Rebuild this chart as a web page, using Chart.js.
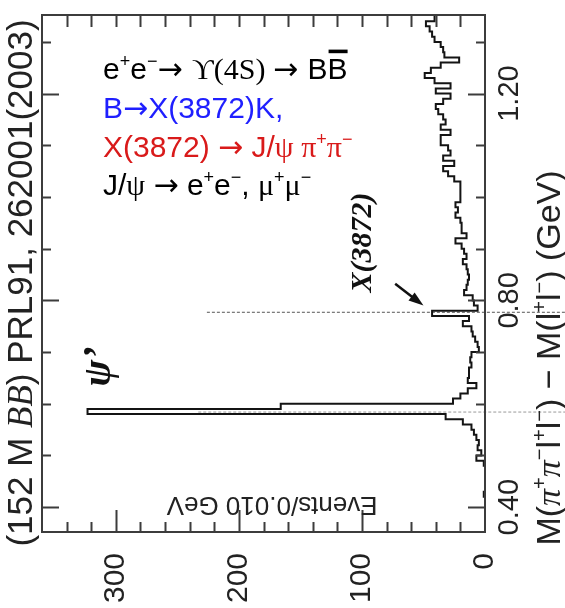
<!DOCTYPE html>
<html>
<head>
<meta charset="utf-8">
<script src="https://cdn.jsdelivr.net/npm/chart.js@4.4.0/dist/chart.umd.min.js"></script>
<style>
html, body { margin: 0; padding: 0; background: #fff; }
#wrap { width: 565px; height: 608px; }
</style>
</head>
<body>
<div id="wrap"><canvas id="myChart" width="565" height="608"></canvas></div>
<script>

// lower edge of every 0.010 GeV bin, top of the plot first
var binLow = [
    1.35, 1.34, 1.33, 1.32, 1.31, 1.30, 1.29, 1.28, 1.27, 1.26,
    1.25, 1.24, 1.23, 1.22, 1.21, 1.20, 1.19, 1.18, 1.17, 1.16,
    1.15, 1.14, 1.13, 1.12, 1.11, 1.10, 1.09, 1.08, 1.07, 1.06,
    1.05, 1.04, 1.03, 1.02, 1.01, 1.00, 0.99, 0.98, 0.97, 0.96,
    0.95, 0.94, 0.93, 0.92, 0.91, 0.90, 0.89, 0.88, 0.87, 0.86,
    0.85, 0.84, 0.83, 0.82, 0.81, 0.80, 0.79, 0.78, 0.77, 0.76,
    0.75, 0.74, 0.73, 0.72, 0.71, 0.70, 0.69, 0.68, 0.67, 0.66,
    0.65, 0.64, 0.63, 0.62, 0.61, 0.60, 0.59, 0.58, 0.57, 0.56,
    0.55, 0.54, 0.53, 0.52, 0.51, 0.50, 0.49, 0.48, 0.47, 0.46,
    0.45, 0.44, 0.43, 0.42, 0.41, 0.40, 0.39, 0.38, 0.37, 0.36,
    0.35
];

// events per bin (same order as binLow)
var binCounts = [
    41, 41, 48, 45, 43, 41, 36, 34, 33, 21,
    36, 44, 49, 41, 28, 40, 28, 34, 40, 38,
    34, 32, 36, 28, 36, 36, 30, 28, 34, 25,
    34, 30, 25, 20, 20, 20, 20, 24, 22, 24,
    20, 19, 19, 15, 24, 19, 17, 15, 18, 15,
    14, 13, 14, 15, 17, 10, 9, 6, 43, 13,
    18, 11, 10, 8, 6, 5, 11, 12, 11, 13,
    13, 14, 7, 14, 20, 26, 166, 323, 32, 18,
    11, 9, 7, 5, 6, 3, 7, 1, 0, 0,
    0, 0, 0, 1, 0, 0, 0, 0, 0, 0,
    0
];

var countTicks = [0, 100, 200, 300];
var countMinor = [20, 40, 60, 80, 120, 140, 160, 180, 220, 240, 260, 280, 320, 340];
var massTicks = [0.40, 0.80, 1.20];
var massMinor = [0.50, 0.60, 0.70, 0.90, 1.00, 1.10, 1.30];
var massTickLabels = ['0.40', '0.80', '1.20'];

// dashed markers: [mass, count where the line starts]
var xLineMass = 0.777, xLineFrom = 226;
var psiLineMass = 0.584, psiLineFrom = 233;

var textColor = '#222';
var sans = '"Liberation Sans", Arial, sans-serif';
var serif = '"Liberation Serif", "DejaVu Serif", serif';
var arrowFont = '"DejaVu Sans", sans-serif';

// decay chain text, one array per line
var decayLines = [
    { color: '#000000', parts: [
        {t: 'e'}, {t: '+', sup: 1}, {t: 'e'}, {t: '\u2212', sup: 1},
        {t: '\u2192 ', arrow: 1}, {t: '\u03d2', serif: 1}, {t: '(4S) ', serif: 1}, {t: '\u2192 ', arrow: 1},
        {t: 'B'}, {t: 'B', over: 1}] },
    { color: '#1f1fff', parts: [{t: 'B'}, {t: '\u2192', arrow: 1}, {t: 'X(3872)K,'}] },
    { color: '#d91a1a', parts: [
        {t: 'X(3872) '}, {t: '\u2192', arrow: 1}, {t: ' J/'}, {t: '\u03c8 \u03c0', serif: 1},
        {t: '+', sup: 1}, {t: '\u03c0', serif: 1}, {t: '\u2212', sup: 1}] },
    { color: '#000000', parts: [
        {t: 'J/'}, {t: '\u03c8', serif: 1}, {t: ' '}, {t: '\u2192', arrow: 1}, {t: ' '},
        {t: 'e'}, {t: '+', sup: 1}, {t: 'e'}, {t: '\u2212', sup: 1}, {t: ', '},
        {t: '\u03bc', serif: 1}, {t: '+', sup: 1}, {t: '\u03bc', serif: 1}, {t: '\u2212', sup: 1}] }
];

var sourceParts = [
    {t: '(152 M '}, {t: 'B', serif: 1, it: 1}, {t: 'B', serif: 1, it: 1},
    {t: ') PRL91, 262001(2003)'}
];

var axisTitleParts = [
    {t: 'M('}, {t: '\u03c0', serif: 1, it: 1}, {t: '+', sup: 1}, {t: '\u03c0', serif: 1, it: 1}, {t: '\u2212', sup: 1},
    {t: 'l'}, {t: '+', sup: 1}, {t: 'l'}, {t: '\u2212', sup: 1},
    {t: ') \u2212 M('}, {t: 'l'}, {t: '+', sup: 1}, {t: 'l'}, {t: '\u2212', sup: 1}, {t: ') (GeV)'}
];

/*********************************
 *     Function Declaration      *
 ********************************/

function partFont(p, size) {
    var s = p.sup ? Math.round(size * 0.6) : size;
    var fam = p.arrow ? arrowFont : (p.serif ? serif : sans);
    return (p.it ? 'italic ' : '') + (p.b ? 'bold ' : '') + s + 'px ' + fam;
}

// draws a list of text pieces on one baseline, x is the start (or centre)
function drawParts(ctx, parts, x, y, size, align) {
    var total = 0;
    parts.forEach(function(p){
        ctx.font = partFont(p, size);
        p.w = ctx.measureText(p.t).width;
        total += p.w;
    });
    var cx = (align === 'center') ? x - total / 2 : x;
    ctx.textAlign = 'left';
    parts.forEach(function(p){
        ctx.font = partFont(p, size);
        var dy = p.sup ? -size * 0.4 : 0;
        ctx.fillText(p.t, cx, y + dy);
        if (p.over) {
            ctx.fillRect(cx + 1, y - size * 0.98, p.w - 1, size * 0.12);
        }
        cx += p.w;
    });
}

function histPoints() {
    var pts = [];
    for (var i = 0; i < binLow.length; i++) {
        pts.push({x: binCounts[i], y: binLow[i] + 0.01});
        pts.push({x: binCounts[i], y: binLow[i]});
    }
    return pts;
}

var framePlugin = {
    id: 'frame',
    afterDatasetsDraw: function(chart) {
        var ctx = chart.ctx;
        var a = chart.chartArea;
        var xs = chart.scales.x, ys = chart.scales.y;

        ctx.save();
        ctx.strokeStyle = '#3c3c3c';
        ctx.lineWidth = 2;
        ctx.strokeRect(a.left, a.top, a.right - a.left, a.bottom - a.top);

        // ticks point inwards on all four sides
        ctx.beginPath();
        countTicks.concat(countMinor).forEach(function(v){
            var px = Math.round(xs.getPixelForValue(v)) + 0.5;
            var major = countTicks.indexOf(v) >= 0;
            if (v === 0) return;
            ctx.moveTo(px, a.bottom); ctx.lineTo(px, a.bottom - (major ? 22 : 10));
            ctx.moveTo(px, a.top); ctx.lineTo(px, a.top + 12);
        });
        massTicks.concat(massMinor).forEach(function(v){
            var py = Math.round(ys.getPixelForValue(v)) + 0.5;
            var len = massTicks.indexOf(v) >= 0 ? 17 : 9;
            ctx.moveTo(a.left, py); ctx.lineTo(a.left + len, py);
            ctx.moveTo(a.right, py); ctx.lineTo(a.right - len, py);
        });
        ctx.stroke();

        ctx.fillStyle = textColor;
        ctx.textBaseline = 'middle';

        // count labels, turned to read upwards
        ctx.font = '30px ' + sans;
        countTicks.forEach(function(v){
            ctx.save();
            ctx.translate(xs.getPixelForValue(v), a.bottom + 21);
            ctx.rotate(-Math.PI / 2);
            ctx.textAlign = 'right';
            ctx.fillText(String(v), 0, 0);
            ctx.restore();
        });

        // mass labels on the right
        ctx.font = '29px ' + sans;
        massTicks.forEach(function(v, i){
            ctx.save();
            ctx.translate(a.right + 25, ys.getPixelForValue(v));
            ctx.rotate(-Math.PI / 2);
            ctx.textAlign = 'center';
            ctx.fillText(massTickLabels[i], 0, 0);
            ctx.restore();
        });

        ctx.textBaseline = 'alphabetic';

        // right axis title
        ctx.save();
        ctx.translate(a.right + 75, 358);
        ctx.rotate(-Math.PI / 2);
        drawParts(ctx, axisTitleParts, 0, 0, 34, 'center');
        ctx.restore();

        // count axis title, upside down inside the frame
        ctx.save();
        ctx.translate(xs.getPixelForValue(173), a.bottom - 35);
        ctx.rotate(Math.PI);
        ctx.textAlign = 'center';
        ctx.font = '26px ' + sans;
        ctx.fillText('Events/0.010 GeV', 0, 0);
        ctx.restore();

        // source note on the far left
        ctx.save();
        ctx.translate(32, 283);
        ctx.rotate(-Math.PI / 2);
        drawParts(ctx, sourceParts, 0, 0, 35, 'center');
        ctx.restore();

        // decay chain
        var baselines = [79, 118, 157, 195];
        decayLines.forEach(function(line, i){
            ctx.fillStyle = line.color;
            drawParts(ctx, line.parts, 103, baselines[i], 30, 'left');
        });

        // peak names
        ctx.fillStyle = '#111';
        ctx.save();
        ctx.translate(xs.getPixelForValue(93), ys.getPixelForValue(0.912));
        ctx.rotate(-Math.PI / 2);
        ctx.textAlign = 'center';
        ctx.font = 'italic bold 30px ' + serif;
        ctx.fillText('X(3872)', 0, 0);
        ctx.restore();

        ctx.save();
        ctx.translate(xs.getPixelForValue(305), ys.getPixelForValue(0.672));
        ctx.rotate(-Math.PI / 2);
        ctx.textAlign = 'center';
        ctx.font = 'italic bold 40px ' + serif;
        ctx.fillText('\u03c8\u2019', 0, 0);
        ctx.restore();

        // arrow to the X(3872) bin
        var x0 = xs.getPixelForValue(73), y0 = ys.getPixelForValue(0.832);
        var x1 = xs.getPixelForValue(50), y1 = ys.getPixelForValue(0.790);
        var ang = Math.atan2(y1 - y0, x1 - x0);
        ctx.strokeStyle = '#111';
        ctx.lineWidth = 2.5;
        ctx.beginPath();
        ctx.moveTo(x0, y0);
        ctx.lineTo(x1 - 10 * Math.cos(ang), y1 - 10 * Math.sin(ang));
        ctx.stroke();
        ctx.beginPath();
        ctx.moveTo(x1, y1);
        ctx.lineTo(x1 - 15 * Math.cos(ang) + 5 * Math.sin(ang), y1 - 15 * Math.sin(ang) - 5 * Math.cos(ang));
        ctx.lineTo(x1 - 15 * Math.cos(ang) - 5 * Math.sin(ang), y1 - 15 * Math.sin(ang) + 5 * Math.cos(ang));
        ctx.closePath();
        ctx.fill();

        ctx.restore();
    }
};

/*********************************
 *    End Function Declaration   *
 ********************************/

var config = {
    type: 'scatter',
    data: {
        datasets: [
            {
                data: histPoints(),
                showLine: true,
                borderColor: '#141414',
                borderWidth: 2,
                pointRadius: 0,
                tension: 0
            },
            {
                data: [{x: xLineFrom, y: xLineMass}, {x: -70, y: xLineMass}],
                showLine: true,
                borderColor: '#555',
                borderWidth: 1,
                borderDash: [3, 2],
                pointRadius: 0,
                clip: false
            },
            {
                data: [{x: psiLineFrom, y: psiLineMass}, {x: -70, y: psiLineMass}],
                showLine: true,
                borderColor: '#999',
                borderWidth: 1,
                borderDash: [3, 2],
                pointRadius: 0,
                clip: false
            }
        ]
    },
    options: {
        responsive: false,
        animation: false,
        events: [],
        layout: { padding: { left: 42, right: 80, top: 15, bottom: 76 } },
        plugins: { legend: { display: false }, tooltip: { enabled: false } },
        scales: {
            x: { type: 'linear', reverse: true, min: 0, max: 360, display: false },
            y: { type: 'linear', min: 0.352, max: 1.352, display: false }
        }
    },
    plugins: [framePlugin]
};

var myChart = new Chart(document.getElementById('myChart'), config);
</script>
</body>
</html>
